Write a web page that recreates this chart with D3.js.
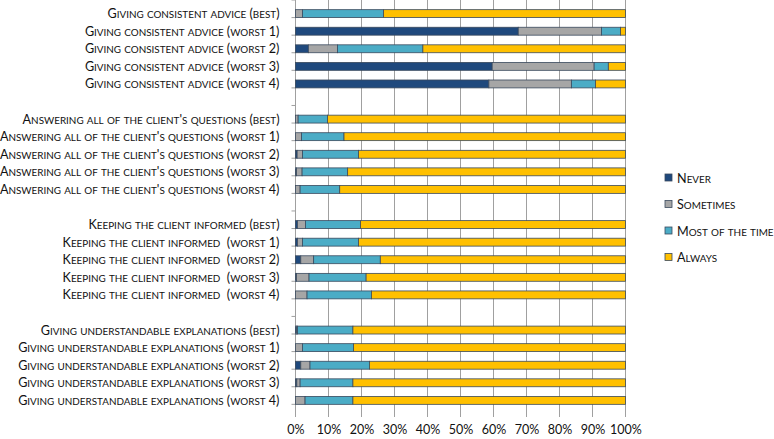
<!DOCTYPE html>
<html>
<head>
<meta charset="utf-8">
<style>
    body { margin: 0; background: #fff; }
    svg text { font-family: Lato, "Open Sans", sans-serif; fill: #111; white-space: pre; }
    .axis .domain { display: none; }
</style>
</head>
<body>
<svg width="774" height="439"></svg>
<script src="https://d3js.org/d3.v7.min.js"></script>
<script>

var categories = [
    "Giving consistent advice (best)",
    "Giving consistent advice (worst 1)",
    "Giving consistent advice (worst 2)",
    "Giving consistent advice (worst 3)",
    "Giving consistent advice (worst 4)",
    "",
    "Answering all of the client's questions (best)",
    "Answering all of the client's questions (worst 1)",
    "Answering all of the client's questions (worst 2)",
    "Answering all of the client's questions (worst 3)",
    "Answering all of the client's questions (worst 4)",
    "",
    "Keeping the client informed (best)",
    "Keeping the client informed  (worst 1)",
    "Keeping the client informed  (worst 2)",
    "Keeping the client informed  (worst 3)",
    "Keeping the client informed  (worst 4)",
    "",
    "Giving understandable explanations (best)",
    "Giving understandable explanations (worst 1)",
    "Giving understandable explanations (worst 2)",
    "Giving understandable explanations (worst 3)",
    "Giving understandable explanations (worst 4)"
];

// null = spacer row between groups
var never     = [0, 67.5, 3.9, 59.6, 58.6, null, 0, 0, 0.5, 0.3, 0, null, 0.6, 0.6, 1.6, 0.3, 0, null, 0.3, 0, 1.6, 0.4, 0];
var sometimes = [2.1, 25.2, 8.8, 30.9, 25.0, null, 0.8, 1.8, 1.6, 1.7, 1.4, null, 2.4, 1.5, 3.9, 3.8, 3.5, null, 0.3, 2.1, 2.8, 1.0, 2.9];
var mostTime  = [24.6, 5.8, 25.9, 4.3, 7.3, null, 8.9, 12.9, 17.0, 13.8, 12.0, null, 16.7, 17.0, 20.2, 17.3, 19.5, null, 16.8, 15.5, 18.0, 16.0, 14.5];
var always    = [73.3, 1.5, 61.4, 5.2, 9.1, null, 90.3, 85.3, 80.9, 84.2, 86.6, null, 80.3, 80.9, 74.3, 78.6, 77.0, null, 82.6, 82.4, 77.6, 82.6, 82.6];

var seriesNames = ["Never", "Sometimes", "Most of the time", "Always"];
var seriesColors = ["#1f497d", "#a6a6a6", "#4bacc6", "#ffc000"];
var xTicks = [0, 10, 20, 30, 40, 50, 60, 70, 80, 90, 100];

var svg = d3.select("svg"),
    margin = {top: 0, left: 295.5},
    width = 330,
    height = 414,
    g = svg.append("g").attr("transform", "translate(" + margin.left + "," + margin.top + ")");

var rows = categories.map(function (c, i) {
    return {i: i, label: c, never: never[i], sometimes: sometimes[i], most: mostTime[i], always: always[i]};
});
var keys = ["never", "sometimes", "most", "always"];

var x = d3.scaleLinear().domain([0, 100]).range([0, width]);
var y = d3.scaleBand().domain(rows.map(function (d) { return d.i; })).range([0, height]).padding(0.55);
var color = d3.scaleOrdinal().domain(keys).range(seriesColors);

var capSize = 12.6, smallSize = 9.9;

// fake Calibri-style small caps: lowercase runs drawn as smaller capitals
function smallCaps(sel) {
    sel.each(function (d) {
        var t = d3.select(this), s = t.text();
        t.text(null);
        var runs = s.match(/[a-z]+|[^a-z]+/g) || [];
        runs.forEach(function (r) {
            var low = /[a-z]/.test(r);
            t.append("tspan")
                .attr("font-size", low ? smallSize : capSize)
                .text(low ? r.toUpperCase() : r);
        });
    });
}

// gridlines
g.append("g")
    .selectAll("line")
    .data(xTicks.slice(1))
    .enter().append("line")
    .attr("x1", function (d) { return x(d); })
    .attr("x2", function (d) { return x(d); })
    .attr("y1", 0)
    .attr("y2", height + 3)
    .attr("stroke", "#a0a0a0")
    .attr("stroke-width", 1);

// left axis line + ticks between categories
g.append("line")
    .attr("x1", 0).attr("x2", 0)
    .attr("y1", 0).attr("y2", height + 3)
    .attr("stroke", "#a0a0a0");

g.append("g")
    .selectAll("line")
    .data(d3.range(categories.length + 1))
    .enter().append("line")
    .attr("x1", -4).attr("x2", 0)
    .attr("y1", function (d) { return d * y.step(); })
    .attr("y2", function (d) { return d * y.step(); })
    .attr("stroke", "#a0a0a0");

var stack = d3.stack().keys(keys).value(function (d, k) { return d[k] || 0; });
var stacked = stack(rows.filter(function (d) { return d.always !== null; }));

g.append("g")
    .selectAll("g")
    .data(stacked)
    .enter().append("g")
    .attr("fill", function (d) { return color(d.key); })
    .selectAll("rect")
    .data(function (d) { return d.filter(function (p) { return p[1] - p[0] > 0; }); })
    .enter().append("rect")
    .attr("x", function (d) { return x(d[0]); })
    .attr("y", function (d) { return y(d.data.i); })
    .attr("width", function (d) { return x(d[1]) - x(d[0]); })
    .attr("height", y.bandwidth())
    .attr("stroke", "#3a4a5e")
    .attr("stroke-width", 0.8);

// category labels
g.append("g")
    .selectAll("text")
    .data(rows)
    .enter().append("text")
    .attr("x", -16)
    .attr("y", function (d) { return y(d.i) + y.bandwidth() / 2 + 4.5; })
    .attr("text-anchor", "end")
    .text(function (d) { return d.label; })
    .call(smallCaps);

// x axis labels
g.append("g")
    .attr("class", "axis")
    .attr("transform", "translate(0," + height + ")")
    .call(d3.axisBottom(x).tickValues(xTicks).tickSize(0).tickPadding(11).tickFormat(function (d) { return d + "%"; }))
    .selectAll("text")
    .attr("font-size", 12.5);

// legend
var legend = svg.append("g")
    .selectAll("g")
    .data(seriesNames)
    .enter().append("g")
    .attr("transform", function (d, i) { return "translate(665," + (178 + i * 26.5) + ")"; });

legend.append("rect")
    .attr("x", 0).attr("y", -4)
    .attr("width", 7).attr("height", 7)
    .attr("fill", function (d, i) { return seriesColors[i]; })
    .attr("stroke", "#3a4a5e")
    .attr("stroke-width", 0.8);

legend.append("text")
    .attr("x", 12)
    .attr("y", 4.5)
    .text(function (d) { return d; })
    .call(smallCaps);

</script>
</body>
</html>
